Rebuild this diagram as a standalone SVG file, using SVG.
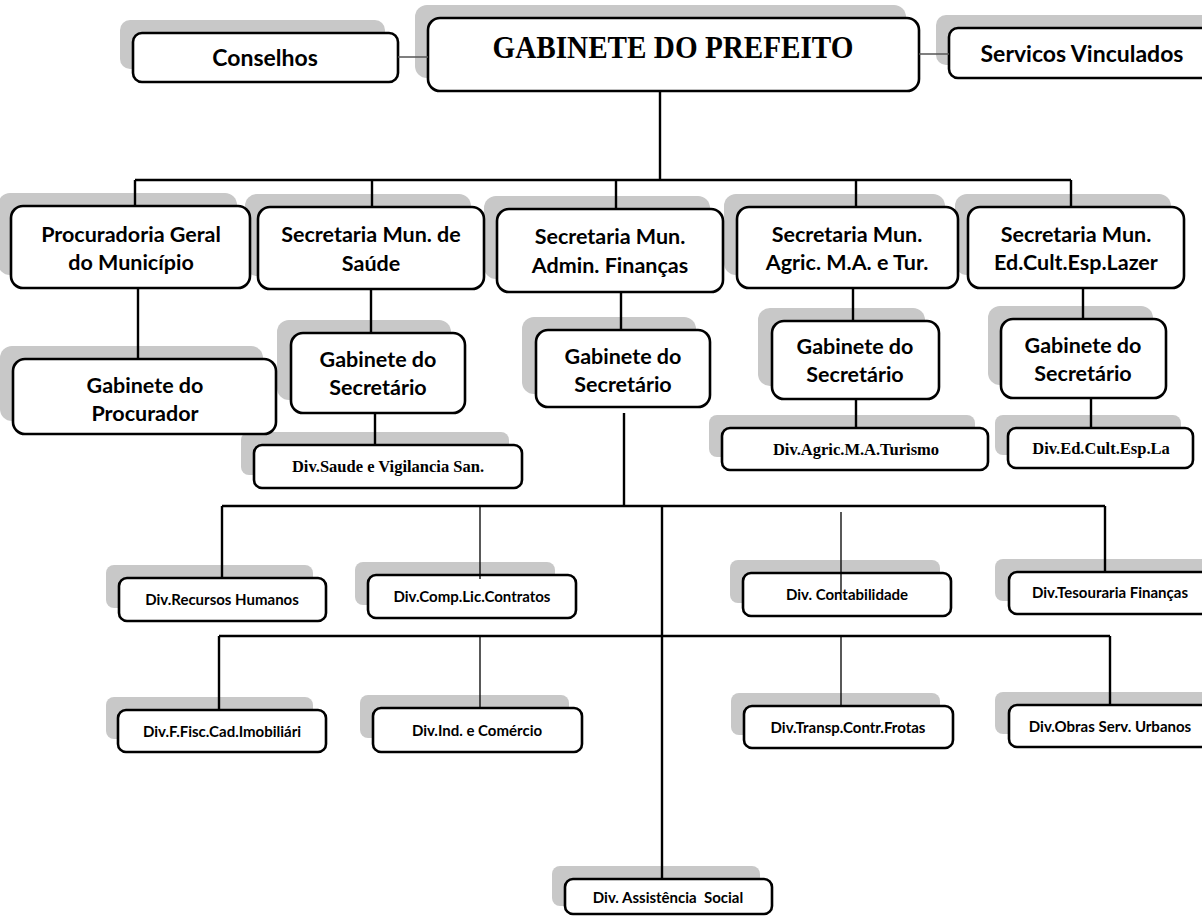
<svg xmlns="http://www.w3.org/2000/svg" width="1202" height="917" viewBox="0 0 1202 917">
<style>
.sh{fill:#c8c8c8}
.bx{fill:#fff;stroke:#000;stroke-width:2.6}
.t{font-family:Lato,"Open Sans",sans-serif;font-weight:700;fill:#000;text-anchor:middle}
.t3{font-size:23px}
.t2{font-size:21.5px}
.t1{font-size:15px}
.s{font-family:"Liberation Serif","Times New Roman",serif;font-weight:700;fill:#000;text-anchor:middle}
.s1{font-size:16.5px}
.c{stroke:#000;stroke-width:2.4;fill:none}
.ct{stroke:#000;stroke-width:1.3;fill:none}
.cg{stroke:#555;stroke-width:1.6;fill:none}
</style>
<rect width="1202" height="917" fill="#fff"/>
<g id="shadows">
<rect class="sh" x="120" y="20" width="265" height="49" rx="10"/>
<rect class="sh" x="415" y="5" width="491" height="73" rx="12"/>
<rect class="sh" x="936" y="15" width="280" height="50" rx="10"/>
<rect class="sh" x="-2" y="193" width="239" height="82" rx="12"/>
<rect class="sh" x="245" y="194" width="226" height="82" rx="12"/>
<rect class="sh" x="484" y="196" width="226" height="83" rx="12"/>
<rect class="sh" x="724" y="194" width="221" height="81" rx="12"/>
<rect class="sh" x="955" y="194" width="216" height="81" rx="12"/>
<rect class="sh" x="0" y="346" width="263" height="75" rx="12"/>
<rect class="sh" x="277" y="320" width="174" height="80" rx="12"/>
<rect class="sh" x="522" y="317" width="174" height="77" rx="12"/>
<rect class="sh" x="758" y="308" width="167" height="78" rx="12"/>
<rect class="sh" x="988" y="306" width="165" height="79" rx="12"/>
<rect class="sh" x="241" y="432" width="268" height="43" rx="8"/>
<rect class="sh" x="709" y="415" width="266" height="42" rx="8"/>
<rect class="sh" x="995" y="415" width="186" height="40" rx="8"/>
<rect class="sh" x="106" y="565" width="207" height="43" rx="8"/>
<rect class="sh" x="355" y="562" width="200" height="43" rx="8"/>
<rect class="sh" x="730" y="560" width="210" height="43" rx="8"/>
<rect class="sh" x="995" y="559" width="220" height="42" rx="8"/>
<rect class="sh" x="106" y="697" width="207" height="42" rx="8"/>
<rect class="sh" x="360" y="695" width="209" height="43" rx="8"/>
<rect class="sh" x="731" y="693" width="209" height="42" rx="8"/>
<rect class="sh" x="995" y="692" width="220" height="42" rx="8"/>
<rect class="sh" x="552" y="866" width="208" height="40" rx="8"/>
</g>
<g id="n-conselhos"><rect class="bx" x="133" y="33" width="265" height="49" rx="9"/><text class="t t3" x="265" y="66">Conselhos</text></g>
<g id="n-gabinete-prefeito"><rect class="bx" x="428" y="18" width="491" height="73" rx="12"/><text class="s" x="673" y="58" font-size="31" textLength="361" lengthAdjust="spacingAndGlyphs">GABINETE DO PREFEITO</text></g>
<g id="n-servicos"><rect class="bx" x="949" y="28" width="270" height="50" rx="9"/><text class="t t3" x="1082" y="62">Servicos Vinculados</text></g>
<g id="n-procuradoria"><rect class="bx" x="11" y="206" width="239" height="82" rx="12"/><text class="t t2" x="131" y="242">Procuradoria Geral</text><text class="t t2" x="131" y="270">do Município</text></g>
<g id="n-saude"><rect class="bx" x="258" y="207" width="226" height="82" rx="12"/><text class="t t2" x="371" y="242">Secretaria Mun. de</text><text class="t t2" x="371" y="271">Saúde</text></g>
<g id="n-admin"><rect class="bx" x="497" y="209" width="226" height="83" rx="12"/><text class="t t2" x="610" y="244">Secretaria Mun.</text><text class="t t2" x="610" y="273">Admin. Finanças</text></g>
<g id="n-agric"><rect class="bx" x="737" y="207" width="221" height="81" rx="12"/><text class="t t2" x="847" y="242">Secretaria Mun.</text><text class="t t2" x="847" y="270">Agric. M.A. e Tur.</text></g>
<g id="n-edcult"><rect class="bx" x="968" y="207" width="216" height="81" rx="12"/><text class="t t2" x="1076" y="242">Secretaria Mun.</text><text class="t t2" x="1076" y="270">Ed.Cult.Esp.Lazer</text></g>
<g id="n-gab-procurador"><rect class="bx" x="13" y="359" width="263" height="75" rx="12"/><text class="t t2" x="145" y="393">Gabinete do</text><text class="t t2" x="145" y="421">Procurador</text></g>
<g id="n-gab-saude"><rect class="bx" x="291" y="333" width="174" height="80" rx="12"/><text class="t t2" x="378" y="367">Gabinete do</text><text class="t t2" x="378" y="395">Secretário</text></g>
<g id="n-gab-admin"><rect class="bx" x="536" y="330" width="174" height="77" rx="12"/><text class="t t2" x="623" y="364">Gabinete do</text><text class="t t2" x="623" y="392">Secretário</text></g>
<g id="n-gab-agric"><rect class="bx" x="772" y="321" width="167" height="78" rx="12"/><text class="t t2" x="855" y="354">Gabinete do</text><text class="t t2" x="855" y="382">Secretário</text></g>
<g id="n-gab-edcult"><rect class="bx" x="1001" y="319" width="165" height="79" rx="12"/><text class="t t2" x="1083" y="353">Gabinete do</text><text class="t t2" x="1083" y="381">Secretário</text></g>
<g id="n-div-saude"><rect class="bx" x="254" y="445" width="268" height="43" rx="8"/><text class="s s1" x="388" y="472">Div.Saude e Vigilancia San.</text></g>
<g id="n-div-agric"><rect class="bx" x="722" y="428" width="266" height="42" rx="8"/><text class="s s1" x="856" y="455">Div.Agric.M.A.Turismo</text></g>
<g id="n-div-edcult"><rect class="bx" x="1008" y="428" width="185" height="40" rx="8"/><text class="s s1" x="1101" y="454">Div.Ed.Cult.Esp.La</text></g>
<g id="n-div-recursos"><rect class="bx" x="119" y="578" width="207" height="43" rx="8"/><text class="t t1" x="222" y="605">Div.Recursos Humanos</text></g>
<g id="n-div-comp"><rect class="bx" x="368" y="575" width="208" height="43" rx="8"/><text class="t t1" x="472" y="602">Div.Comp.Lic.Contratos</text></g>
<g id="n-div-contab"><rect class="bx" x="743" y="573" width="208" height="43" rx="8"/><text class="t t1" x="847" y="600">Div. Contabilidade</text></g>
<g id="n-div-tesouraria"><rect class="bx" x="1009" y="572" width="220" height="42" rx="8"/><text class="t t1" x="1110" y="598">Div.Tesouraria Finanças</text></g>
<g id="n-div-ffisc"><rect class="bx" x="118" y="710" width="208" height="42" rx="8"/><text class="t t1" x="222" y="737">Div.F.Fisc.Cad.Imobiliári</text></g>
<g id="n-div-ind"><rect class="bx" x="373" y="708" width="209" height="44" rx="8"/><text class="t t1" x="477" y="736">Div.Ind. e Comércio</text></g>
<g id="n-div-transp"><rect class="bx" x="744" y="706" width="209" height="42" rx="8"/><text class="t t1" x="848" y="733">Div.Transp.Contr.Frotas</text></g>
<g id="n-div-obras"><rect class="bx" x="1009" y="705" width="220" height="42" rx="8"/><text class="t t1" x="1110" y="732">Div.Obras Serv. Urbanos</text></g>
<g id="n-div-assist"><rect class="bx" x="565" y="879" width="207" height="35" rx="8"/><text class="t t1" x="668" y="903" xml:space="preserve">Div. Assistência  Social</text></g>
<g id="connectors">
<path class="cg" d="M398 57H428M919 54H949"/>
<path class="c" d="M660 91V180M135 180H1071M135 180V206M372 180V207M616 180V209M856 180V207M1071 180V207"/>
<path class="c" d="M138 288V359M371 289V333M621 292V330M853 288V321M1083 288V319M375 413V445M856 399V428M1091 398V428"/>
<path class="c" d="M624 413V507M222 506H1105M222 506V578M1105 506V572M662 506V879M219 636H1110M219 636V710M1110 636V705"/>
<path class="ct" d="M480 506V579M841 512V593M480 636V708M841 636V706"/>
</g>
</svg>
